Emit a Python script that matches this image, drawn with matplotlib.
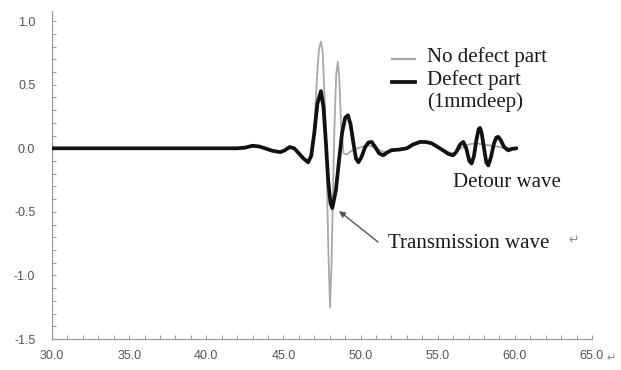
import matplotlib
matplotlib.use("Agg")
import matplotlib.pyplot as plt
from matplotlib.lines import Line2D

# ---- data ----
t_defect = [30.0, 35.0, 40.0, 42.0, 42.5, 43.0, 43.4, 43.8, 44.3, 44.8, 45.1, 45.4,
            45.7, 46.0, 46.3, 46.6, 46.8, 47.0, 47.2, 47.43, 47.6, 47.75, 47.9,
            48.05, 48.17, 48.4, 48.6, 48.8, 49.0, 49.18, 49.35, 49.55, 49.7, 49.86,
            50.05, 50.3, 50.5, 50.72, 50.95, 51.2, 51.47, 51.7, 52.0, 52.5, 53.0,
            53.4, 53.85, 54.2, 54.6, 55.0, 55.4, 55.7, 56.0, 56.2, 56.45, 56.66,
            56.85, 57.05, 57.2, 57.35, 57.5, 57.65, 57.74, 57.85, 58.0, 58.15,
            58.28, 58.45, 58.65, 58.8, 58.93, 59.1, 59.3, 59.57, 59.8, 60.1]
v_defect = [0.0, 0.0, 0.0, 0.0, 0.005, 0.02, 0.015, 0.0, -0.02, -0.03, -0.015, 0.01,
            0.0, -0.04, -0.08, -0.11, -0.06, 0.12, 0.35, 0.45, 0.32, 0.05, -0.25,
            -0.43, -0.47, -0.33, -0.1, 0.12, 0.24, 0.26, 0.19, 0.03, -0.08, -0.11,
            -0.07, 0.01, 0.045, 0.05, 0.01, -0.04, -0.055, -0.035, -0.015, -0.01, 0.0,
            0.03, 0.05, 0.05, 0.04, 0.01, -0.02, -0.045, -0.055, -0.03, 0.03, 0.05,
            0.0, -0.1, -0.12, -0.06, 0.06, 0.15, 0.16, 0.12, 0.0, -0.11,
            -0.135, -0.07, 0.04, 0.085, 0.09, 0.06, 0.01, -0.016, -0.005, 0.0]

t_nodefect = [30.0, 35.0, 40.0, 42.0, 42.5, 43.0, 43.4, 43.8, 44.3, 44.8, 45.1, 45.4,
              45.7, 46.0, 46.3, 46.6, 46.8, 47.0, 47.15, 47.3, 47.43, 47.55, 47.7,
              47.8, 47.9, 48.02, 48.12, 48.22, 48.3, 48.42, 48.53, 48.62, 48.75,
              48.9, 49.1, 49.4, 49.8, 50.2, 50.6, 51.0, 51.5, 52.0, 52.5, 53.0,
              53.5, 54.0, 54.5, 55.0, 55.5, 56.0, 56.5, 57.0, 57.5, 58.0, 58.5,
              59.0, 59.5, 60.1]
v_nodefect = [0.0, 0.0, 0.0, 0.0, 0.005, 0.02, 0.015, 0.0, -0.02, -0.03, -0.015, 0.01,
              0.0, -0.04, -0.08, -0.11, -0.04, 0.15, 0.5, 0.78, 0.84, 0.75, 0.3,
              -0.15, -0.75, -1.25, -0.9, -0.3, 0.15, 0.58, 0.68, 0.55, 0.15,
              -0.04, -0.05, -0.02, 0.0, 0.015, 0.02, 0.0, -0.03, -0.015, -0.01, 0.0,
              0.03, 0.045, 0.04, 0.01, -0.025, -0.04, 0.0, 0.03, 0.04, 0.03, 0.02,
              0.01, 0.0, 0.0]

x_ticks = [30.0, 35.0, 40.0, 45.0, 50.0, 55.0, 60.0, 65.0]
y_ticks = [-1.5, -1.0, -0.5, 0.0, 0.5, 1.0]

W, H = 621, 370
fig = plt.figure(figsize=(W / 100, H / 100), dpi=100)
ax = fig.add_axes([52 / W, 1 - 339 / H, 540 / W, 328 / H])

ax.plot(t_nodefect, v_nodefect, color="#a8a8a8", lw=1.3, zorder=2)
ax.plot(t_defect, v_defect, color="#111111", lw=2.7, zorder=3,
        solid_joinstyle="round", solid_capstyle="round")

ax.set_xlim(30, 65)
ax.set_ylim(-1.5, 1.08)
ax.set_xticks(x_ticks)
ax.set_xticklabels([f"{v:.1f}" for v in x_ticks])
ax.set_yticks(y_ticks)
ax.set_yticklabels([f"{v:.1f}" for v in y_ticks])
ax.set_xticks([30 + i for i in range(36)], minor=True)
ax.set_yticks([-1.5 + 0.1 * i for i in range(26)], minor=True)

for s in ["top", "right"]:
    ax.spines[s].set_visible(False)
for s in ["left", "bottom"]:
    ax.spines[s].set_color("#9a9a9a")
    ax.spines[s].set_linewidth(0.9)

ax.tick_params(which="both", direction="in", length=3, width=0.7, color="#9a9a9a")
ax.tick_params(axis="x", which="major", pad=8, labelcolor="#555555")
ax.tick_params(axis="y", which="major", pad=12, labelcolor="#555555")
for lab in ax.get_xticklabels() + ax.get_yticklabels():
    lab.set_fontfamily("Liberation Sans")
    lab.set_fontsize(9)

serif = dict(family="Liberation Serif", size=15, color="#1a1a1a")

def fx(x):
    return x / W

def fy(y):
    return 1 - y / H

# legend (manual)
fig.add_artist(Line2D([fx(392), fx(415)], [fy(59), fy(59)], color="#a8a8a8", lw=1.6))
fig.add_artist(Line2D([fx(392), fx(415)], [fy(82), fy(82)], color="#111111", lw=2.7))
fig.text(fx(427), fy(57), "No defect part", ha="left", va="center", **serif)
fig.text(fx(427), fy(80), "Defect part", ha="left", va="center", **serif)
fig.text(fx(427), fy(102), "(1mmdeep)", ha="left", va="center", **serif)

fig.text(fx(453), fy(182), "Detour wave", ha="left", va="center", **serif)
fig.text(fx(388), fy(243), "Transmission wave", ha="left", va="center", **serif)

ax.annotate("", xy=(fx(339), fy(211)), xycoords="figure fraction",
            xytext=(fx(378), fy(242)), textcoords="figure fraction",
            arrowprops=dict(arrowstyle="-|>", color="#555555", lw=1.0,
                            mutation_scale=9, shrinkA=0, shrinkB=0))

fig.text(fx(568), fy(240), "\u21b5", ha="left", va="center", color="#888888",
         family="DejaVu Sans", size=9)
fig.text(fx(606), fy(358), "\u21b5", ha="left", va="center", color="#888888",
         family="DejaVu Sans", size=8)

fig.savefig("out.png", dpi=100)
